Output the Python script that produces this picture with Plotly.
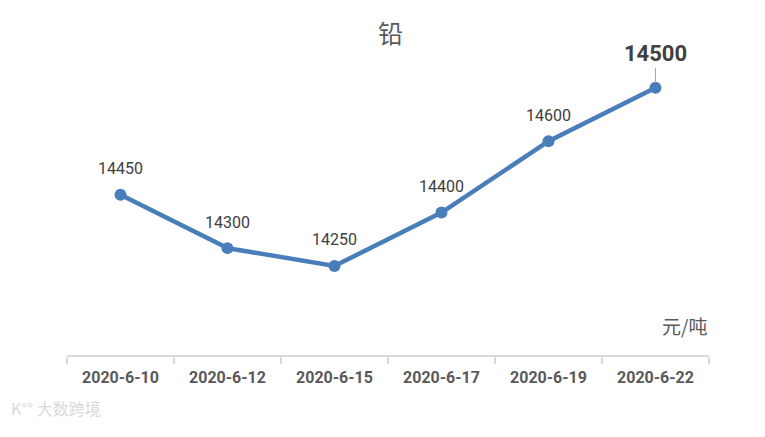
import plotly.graph_objects as go

dates = ["2020-6-10", "2020-6-12", "2020-6-15", "2020-6-17", "2020-6-19", "2020-6-22"]
prices = [14450, 14300, 14250, 14400, 14600, 14750]
labels = ["14450", "14300", "14250", "14400", "14600", "14500"]

title_text = "铅"
unit_text = "元/吨"
watermark_text = "大数跨境"

LINE = "#4a7ebb"
FONT = "Roboto, Noto Sans CJK SC, sans-serif"

fig = go.Figure()
fig.add_trace(go.Scatter(
    x=dates, y=prices, mode="lines+markers",
    line=dict(color=LINE, width=4.5),
    marker=dict(color=LINE, size=12),
    hoverinfo="skip", showlegend=False,
))

# regular data labels
for d, v, t in zip(dates[:-1], prices[:-1], labels[:-1]):
    fig.add_annotation(x=d, y=v, text=t, showarrow=False, yshift=26,
                       font=dict(family=FONT, size=16, color="#404040"))

# highlighted last label with leader line
fig.add_annotation(x=dates[-1], y=prices[-1], text="<b>" + labels[-1] + "</b>",
                   showarrow=True, arrowhead=0, arrowwidth=1, arrowcolor="#a6a6a6",
                   ax=0, ay=-20, standoff=5,
                   font=dict(family=FONT, size=22, color="#404040"), yanchor="bottom")

fig.add_annotation(xref="paper", yref="paper", x=1.0, y=0.105, text=unit_text,
                   showarrow=False, xanchor="right", yanchor="middle",
                   font=dict(family="Noto Sans CJK SC", size=19, color="#595959"))

fig.add_annotation(xref="paper", yref="paper", x=-0.09, y=-0.235, text="K°° " + watermark_text,
                   showarrow=False, xanchor="left",
                   font=dict(family="Noto Sans CJK SC", size=16, color="#d9d9d9"))

fig.update_layout(
    width=765, height=437,
    margin=dict(l=59, r=64, t=62, b=90),
    paper_bgcolor="white", plot_bgcolor="white",
    title=dict(text=title_text, x=0.5, xanchor="center", y=0.94, yanchor="middle",
               font=dict(family="Noto Sans CJK SC", size=25, color="#595959")),
    xaxis=dict(type="category", range=[-0.5, len(dates) - 0.5],
               showgrid=False, showline=True, linecolor="#d9d9d9",
               linewidth=2, ticks="outside", tickson="boundaries", ticklen=7,
               tickcolor="#d9d9d9", tickwidth=2, ticklabelstandoff=7,
               tickfont=dict(family=FONT, size=16, color="#595959", weight="bold"),
               zeroline=False),
    yaxis=dict(range=[14000, 14800], visible=False, showgrid=False, zeroline=False),
)

fig.write_html("out.html")
